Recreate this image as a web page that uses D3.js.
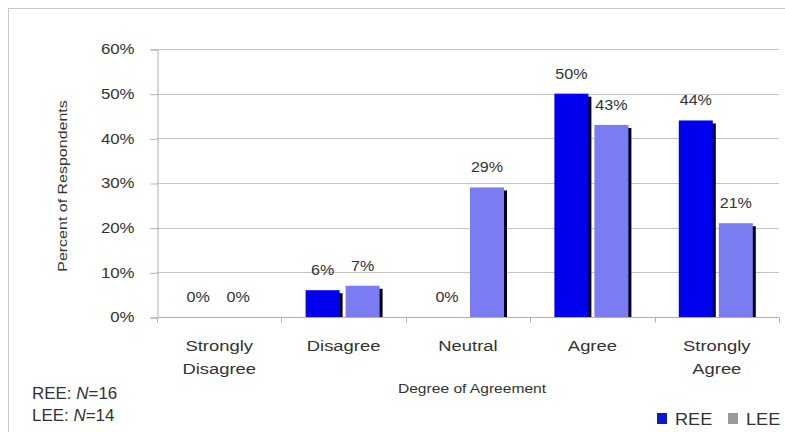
<!DOCTYPE html>
<html>
<head>
<meta charset="utf-8">
<script src="https://cdn.jsdelivr.net/npm/d3@7"></script>
<style>
  body { margin: 0; background: #fff; }
  svg { font-family: "Liberation Sans", Arial, sans-serif; }
</style>
</head>
<body>
<svg id="chart" width="785" height="432"></svg>
<script>
const width = 785;
const height = 432;

// data
const categories = [["Strongly", "Disagree"], ["Disagree"], ["Neutral"], ["Agree"], ["Strongly", "Agree"]];
const seriesNames = ["REE", "LEE"];
const reeValues = [0, 6, 0, 50, 44];
const leeValues = [0, 7, 29, 43, 21];
const yTicks = [0, 10, 20, 30, 40, 50, 60];
const sampleNotes = [["REE: ", "16"], ["LEE: ", "14"]];

const colors = { REE: "#0000ee", LEE: "#7c7cf2" };
const legendColors = { REE: "#0a1ad0", LEE: "#9a9a9a" };

const svg = d3.select("#chart");

// the source text is drawn a bit wide, so stretch it horizontally
function stretch(sel, sx, rot) {
    sel.each(function () {
        const t = d3.select(this);
        const tx = +t.attr("x") || 0, ty = +t.attr("y") || 0;
        t.attr("x", 0).attr("y", 0)
            .attr("transform", `translate(${tx},${ty})${rot ? " rotate(" + rot + ")" : ""} scale(${sx},1)`);
        t.selectAll("tspan")
            .filter(function () { return this.hasAttribute("x"); })
            .attr("x", 0);
    });
}

// outer frame
svg.append("rect")
    .attr("x", 8.5).attr("y", 8.5)
    .attr("width", 820).attr("height", 460)
    .attr("fill", "none")
    .attr("stroke", "#c8c8c8");

const x = d3.scaleBand()
    .domain(d3.range(categories.length))
    .range([157, 779]);

const y = d3.scaleLinear()
    .domain([0, 60])
    .range([317, 49]);

// gridlines
svg.append("g")
    .selectAll("line")
    .data(yTicks.slice(1))
    .enter()
    .append("line")
    .attr("x1", 157).attr("x2", 779)
    .attr("y1", d => Math.round(y(d)) + 0.5)
    .attr("y2", d => Math.round(y(d)) + 0.5)
    .attr("stroke", "#c4c4c4");

// y axis
const yAxis = svg.append("g")
    .attr("transform", "translate(157.5,0.5)")
    .call(d3.axisLeft(y).tickValues(yTicks).tickSize(7).tickPadding(16).tickFormat(d => d + "%"));
yAxis.select(".domain").attr("stroke", "#b0b0b0");
yAxis.selectAll(".tick line").attr("stroke", "#b0b0b0");
yAxis.selectAll("text")
    .attr("font-size", 14)
    .attr("fill", "#333")
    .call(stretch, 1.2);

// x axis
const xAxisG = svg.append("g").attr("transform", "translate(0,317.5)");
xAxisG.append("line")
    .attr("x1", 157).attr("x2", 779)
    .attr("stroke", "#b0b0b0");
xAxisG.selectAll(".xtick")
    .data(d3.range(categories.length + 1))
    .enter()
    .append("line")
    .attr("x1", d => Math.round(157 + d * x.bandwidth()) + 0.5)
    .attr("x2", d => Math.round(157 + d * x.bandwidth()) + 0.5)
    .attr("y1", 0).attr("y2", 5)
    .attr("stroke", "#b0b0b0");

// bars
const barW = 34;
const gap = 6;
const rows = categories.map((c, i) => ({ i, REE: reeValues[i], LEE: leeValues[i] }));

seriesNames.forEach((s, k) => {
    const bx = i => x(i) + x.bandwidth() / 2 - barW - gap / 2 + k * (barW + gap) - 1;
    const g = svg.append("g");
    const withBar = rows.filter(d => d[s] > 0);
    // shadow
    g.selectAll(".shadow")
        .data(withBar)
        .enter()
        .append("rect")
        .attr("x", d => bx(d.i) + 3)
        .attr("y", d => y(d[s]) + 3)
        .attr("width", barW)
        .attr("height", d => y(0) - y(d[s]) - 3)
        .attr("fill", "#000018");
    g.selectAll(".bar")
        .data(withBar)
        .enter()
        .append("rect")
        .attr("x", d => bx(d.i))
        .attr("y", d => y(d[s]))
        .attr("width", barW)
        .attr("height", d => y(0) - y(d[s]))
        .attr("fill", colors[s]);
    g.selectAll(".lbl")
        .data(rows)
        .enter()
        .append("text")
        .attr("x", d => bx(d.i) + barW / 2)
        .attr("y", d => y(d[s]) - 15)
        .attr("text-anchor", "middle")
        .attr("font-size", 14)
        .attr("fill", "#333")
        .text(d => d[s] + "%")
        .call(stretch, 1.15);
});

// category labels
svg.append("g")
    .selectAll("text")
    .data(categories)
    .enter()
    .append("text")
    .attr("x", (d, i) => x(i) + x.bandwidth() / 2)
    .attr("y", 351)
    .attr("text-anchor", "middle")
    .attr("font-size", 14.5)
    .attr("fill", "#333")
    .each(function (d) {
        d.forEach((line, j) => {
            d3.select(this).append("tspan")
                .attr("x", d3.select(this).attr("x"))
                .attr("dy", j === 0 ? 0 : 23.5)
                .text(line);
        });
    })
    .call(stretch, 1.27);

// axis titles
svg.append("text")
    .attr("x", 472)
    .attr("y", 393)
    .attr("text-anchor", "middle")
    .attr("font-size", 13)
    .attr("fill", "#333")
    .text("Degree of Agreement")
    .call(stretch, 1.2);

svg.append("text")
    .attr("x", 67)
    .attr("y", 186)
    .attr("text-anchor", "middle")
    .attr("font-size", 12.5)
    .attr("fill", "#333")
    .text("Percent of Respondents")
    .call(stretch, 1.28, -90);

// sample sizes
sampleNotes.forEach((n, i) => {
    const t = svg.append("text")
        .attr("x", 32)
        .attr("y", 399 + i * 22)
        .attr("font-size", 16)
        .attr("fill", "#333");
    t.append("tspan").text(n[0]);
    t.append("tspan").attr("font-style", "italic").text("N");
    t.append("tspan").text("=" + n[1]);
    t.call(stretch, 1.06);
});

// legend
const legendX = [657, 728];
seriesNames.forEach((s, k) => {
    svg.append("rect")
        .attr("x", legendX[k])
        .attr("y", 413)
        .attr("width", 10).attr("height", 11)
        .attr("fill", legendColors[s]);
    svg.append("text")
        .attr("x", legendX[k] + 18)
        .attr("y", 425)
        .attr("font-size", 16.5)
        .attr("fill", "#333")
        .text(s)
        .call(stretch, 1.1);
});
</script>
</body>
</html>
